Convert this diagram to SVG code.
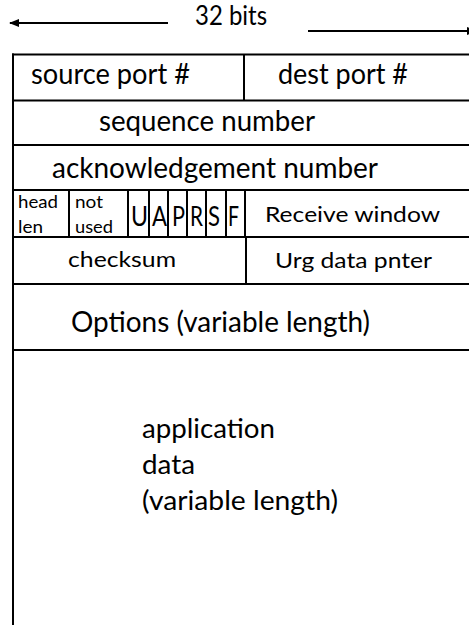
<svg xmlns="http://www.w3.org/2000/svg" width="469" height="625" viewBox="0 0 469 625">
<style>
  .ln{stroke:#000;stroke-width:2;fill:none}
  text{font-family:Lato,"Open Sans","Liberation Sans",sans-serif;fill:#000}
  .b{font-size:29px}
  .s{font-size:18px}
  .f{font-size:26px}
  .m{font-size:22px}
  .a{font-size:27px}
</style>
<defs>
  <marker id="ah" viewBox="0 0 10 8" refX="9" refY="4" markerWidth="10" markerHeight="8" markerUnits="userSpaceOnUse" orient="auto">
    <path d="M0,0 L10,4 L0,8 Z" fill="#000"/>
  </marker>
</defs>
<rect width="469" height="625" fill="#fff"/>
<g id="connectors">
  <line class="ln" x1="168" y1="23" x2="10" y2="23" marker-end="url(#ah)"/>
  <line class="ln" x1="308" y1="31" x2="476" y2="31" marker-end="url(#ah)"/>
</g>
<g id="width-label">
  <text class="f" x="195" y="25" textLength="72" lengthAdjust="spacingAndGlyphs">32 bits</text>
</g>
<g id="frame">
  <line class="ln" x1="13" y1="53.5" x2="13" y2="625"/>
  <line class="ln" x1="12" y1="54.5" x2="469" y2="54.5"/>
  <line class="ln" x1="12" y1="100.5" x2="469" y2="100.5"/>
  <line class="ln" x1="12" y1="145" x2="469" y2="145"/>
  <line class="ln" x1="12" y1="190" x2="469" y2="190"/>
  <line class="ln" x1="12" y1="237" x2="469" y2="237"/>
  <line class="ln" x1="12" y1="284" x2="469" y2="284"/>
  <line class="ln" x1="12" y1="350" x2="469" y2="350"/>
</g>
<g id="source-port">
  <text class="b" x="31" y="84" textLength="159" lengthAdjust="spacingAndGlyphs">source port #</text>
</g>
<g id="dest-port">
  <line class="ln" x1="244" y1="54.5" x2="244" y2="100.5"/>
  <text class="b" x="278" y="84" textLength="130" lengthAdjust="spacingAndGlyphs">dest port #</text>
</g>
<g id="sequence-number">
  <text class="b" x="99" y="131" textLength="216" lengthAdjust="spacingAndGlyphs">sequence number</text>
</g>
<g id="ack-number">
  <text class="b" x="52" y="178" textLength="326" lengthAdjust="spacingAndGlyphs">acknowledgement number</text>
</g>
<g id="head-len">
  <text class="s" x="18" y="208" textLength="40" lengthAdjust="spacingAndGlyphs">head</text>
  <text class="s" x="18" y="233" textLength="25" lengthAdjust="spacingAndGlyphs">len</text>
</g>
<g id="not-used">
  <line class="ln" x1="69" y1="190" x2="69" y2="237"/>
  <text class="s" x="75" y="208" textLength="28" lengthAdjust="spacingAndGlyphs">not</text>
  <text class="s" x="75" y="233" textLength="38" lengthAdjust="spacingAndGlyphs">used</text>
</g>
<g id="flags">
  <line class="ln" x1="128" y1="190" x2="128" y2="237"/>
  <line class="ln" x1="149" y1="190" x2="149" y2="237"/>
  <line class="ln" x1="168" y1="190" x2="168" y2="237"/>
  <line class="ln" x1="187" y1="190" x2="187" y2="237"/>
  <line class="ln" x1="206" y1="190" x2="206" y2="237"/>
  <line class="ln" x1="226" y1="190" x2="226" y2="237"/>
  <text class="f" x="131" y="226" textLength="17" lengthAdjust="spacingAndGlyphs">U</text>
  <text class="f" x="152" y="226" textLength="15" lengthAdjust="spacingAndGlyphs">A</text>
  <text class="f" x="172" y="226" textLength="13" lengthAdjust="spacingAndGlyphs">P</text>
  <text class="f" x="190" y="226" textLength="13" lengthAdjust="spacingAndGlyphs">R</text>
  <text class="f" x="208" y="226" textLength="12" lengthAdjust="spacingAndGlyphs">S</text>
  <text class="f" x="228" y="226" textLength="11" lengthAdjust="spacingAndGlyphs">F</text>
</g>
<g id="receive-window">
  <line class="ln" x1="245" y1="190" x2="245" y2="237"/>
  <text class="m" x="265" y="222" textLength="175" lengthAdjust="spacingAndGlyphs">Receive window</text>
</g>
<g id="checksum">
  <text class="m" x="68" y="267" textLength="108" lengthAdjust="spacingAndGlyphs">checksum</text>
</g>
<g id="urg-pointer">
  <line class="ln" x1="246" y1="237" x2="246" y2="284"/>
  <text class="m" x="275" y="268" textLength="157" lengthAdjust="spacingAndGlyphs">Urg data pnter</text>
</g>
<g id="options">
  <text class="b" x="71" y="332" textLength="299" lengthAdjust="spacingAndGlyphs">Options (variable length)</text>
</g>
<g id="application-data">
  <text class="a" x="142" y="438" textLength="133" lengthAdjust="spacingAndGlyphs">application</text>
  <text class="a" x="142" y="474" textLength="53" lengthAdjust="spacingAndGlyphs">data</text>
  <text class="a" x="142" y="510" textLength="196" lengthAdjust="spacingAndGlyphs">(variable length)</text>
</g>
</svg>
